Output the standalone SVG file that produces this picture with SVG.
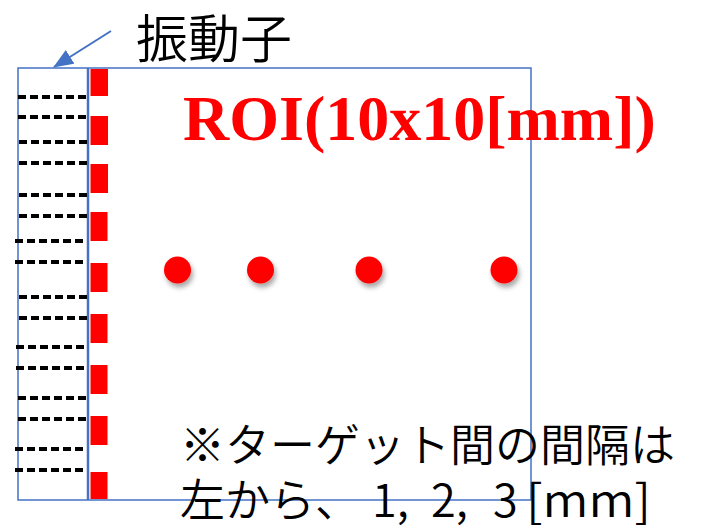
<svg xmlns="http://www.w3.org/2000/svg" width="707" height="527" viewBox="0 0 707 527">
  <style>
    .frame { fill: none; stroke: #4472C4; stroke-width: 1.5; }
    .dash { stroke: #000; stroke-width: 4; stroke-dasharray: 8 4; }
    .elem { fill: #FF0000; }
    .target { fill: #FF0000; filter: url(#shadow); }
    .jp { font-family: "Noto Sans CJK JP", "Noto Sans", sans-serif; font-weight: 350; fill: #000; }
    .roi { font-family: "Liberation Serif", serif; font-weight: bold; fill: #FF0000; }
  </style>
  <defs>
    <marker id="arrow" markerWidth="20" markerHeight="16" refX="19" refY="8" orient="auto" markerUnits="userSpaceOnUse" viewBox="0 0 20 16">
      <path d="M0,0 L20,8 L0,16 z" fill="#4472C4"/>
    </marker>
    <filter id="shadow" x="-50%" y="-50%" width="200%" height="200%">
      <feDropShadow dx="2" dy="4" stdDeviation="2.5" flood-color="#000" flood-opacity="0.35"/>
    </filter>
  </defs>

  <g id="roi-frame">
    <rect class="frame" x="18" y="68" width="513" height="432"/>
    <line x1="88" y1="68" x2="88" y2="500" stroke="#4472C4" stroke-width="2.5"/>
  </g>

  <g id="transducer">
    <g id="dashes">
      <line class="dash" x1="18" y1="97" x2="88" y2="97"/>
      <line class="dash" x1="18" y1="117" x2="88" y2="117"/>
      <line class="dash" x1="19" y1="142" x2="88" y2="142"/>
      <line class="dash" x1="19" y1="163" x2="88" y2="163"/>
      <line class="dash" x1="19" y1="195" x2="88" y2="195"/>
      <line class="dash" x1="19" y1="216" x2="88" y2="216"/>
      <line class="dash" x1="15" y1="241" x2="86" y2="241"/>
      <line class="dash" x1="15" y1="262" x2="86" y2="262"/>
      <line class="dash" x1="19" y1="297" x2="88" y2="297"/>
      <line class="dash" x1="19" y1="318" x2="88" y2="318"/>
      <line class="dash" x1="16" y1="347" x2="86" y2="347"/>
      <line class="dash" x1="16" y1="368" x2="86" y2="368"/>
      <line class="dash" x1="18" y1="398" x2="88" y2="398"/>
      <line class="dash" x1="18" y1="419" x2="88" y2="419"/>
      <line class="dash" x1="15" y1="449" x2="86" y2="449"/>
      <line class="dash" x1="15" y1="470" x2="86" y2="470"/>
    </g>
    <g id="elements">
      <rect class="elem" x="90.5" y="69" width="17.5" height="27"/>
      <rect class="elem" x="90.5" y="116" width="17.5" height="29"/>
      <rect class="elem" x="90.5" y="164" width="17.5" height="29"/>
      <rect class="elem" x="90.5" y="212" width="17" height="29"/>
      <rect class="elem" x="90.5" y="263" width="17" height="29"/>
      <rect class="elem" x="90.5" y="314" width="17" height="29"/>
      <rect class="elem" x="90.5" y="365" width="17" height="29"/>
      <rect class="elem" x="90.5" y="416" width="17" height="29"/>
      <rect class="elem" x="90.5" y="472" width="17" height="27"/>
    </g>
  </g>

  <g id="targets">
    <circle class="target" cx="177.5" cy="270" r="13.5"/>
    <circle class="target" cx="260.5" cy="270" r="13.5"/>
    <circle class="target" cx="369" cy="270" r="13.5"/>
    <circle class="target" cx="504" cy="270" r="13.5"/>
  </g>

  <g id="connectors">
    <line x1="111" y1="31" x2="54" y2="67" stroke="#4472C4" stroke-width="2" marker-end="url(#arrow)"/>
  </g>

  <g id="label-transducer">
    <text class="jp" x="136" y="58" font-size="52">振動子</text>
  </g>

  <g id="label-roi">
    <text class="roi" x="183" y="140" font-size="64">ROI(10x10[mm])</text>
  </g>

  <g id="note">
    <text class="jp" x="180" y="462" font-size="45">※ターゲット間の間隔は</text>
    <text class="jp" y="517" font-size="45"><tspan x="180">左から、</tspan><tspan x="372">1,</tspan><tspan x="431">2,</tspan><tspan x="493">3</tspan><tspan x="526" textLength="125" lengthAdjust="spacingAndGlyphs">[mm]</tspan></text>
  </g>
</svg>
